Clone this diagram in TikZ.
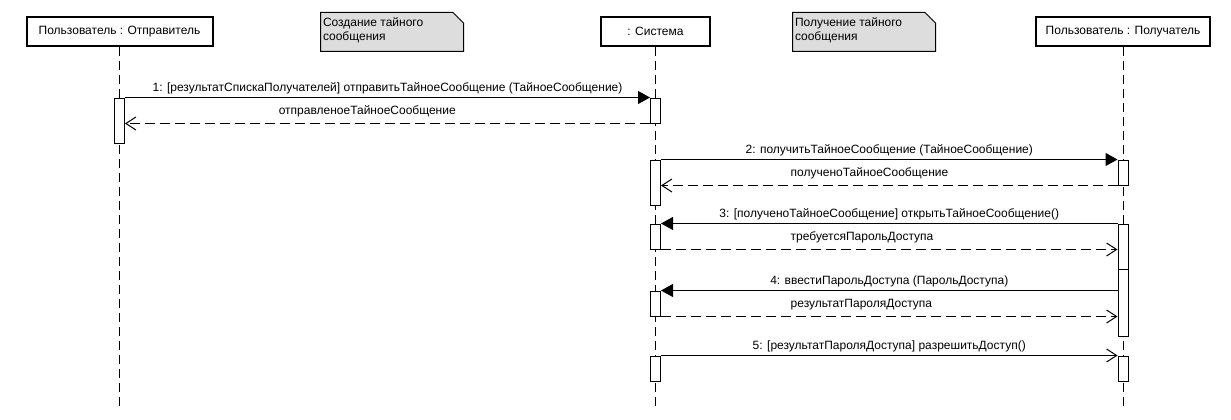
\documentclass[tikz,border=0pt]{standalone}
\usepackage{fontspec}
\setmainfont{Liberation Sans}
\usetikzlibrary{arrows.meta, calc}
\definecolor{notegray}{RGB}{221,221,221}

\begin{document}
\begin{tikzpicture}[x=1pt,y=-1pt,line width=1pt,
        font=\fontsize{12}{14}\selectfont,
        head/.style={draw, line width=2pt, fill=white, minimum height=29pt, inner sep=0pt},
        act/.style={draw, fill=white, minimum width=10pt, inner sep=0pt},
        life/.style={dash pattern=on 9pt off 5pt},
        call/.style={-{Triangle[length=12pt,width=13pt]}},
        ret/.style={dash pattern=on 10pt off 5pt, -{Straight Barb[length=10pt,width=13pt]}},
        async/.style={-{Straight Barb[length=10pt,width=13pt]}},
        lbl/.style={inner sep=0pt, text depth=3pt},
        notebox/.style={draw, fill=notegray},
        notetext/.style={inner sep=0pt, align=left}]
        \useasboundingbox (0,0) rectangle (1231,420);

        \draw[notebox] (320.5,12.5)--(453,12.5)--(463.5,23)--(463.5,51.5)--(320.5,51.5)--cycle;
        \node[notetext, anchor=north west] (noteSend) at (322.5,17) {Создание тайного\\сообщения};
        \draw[notebox] (792.5,12.5)--(925,12.5)--(935.5,23)--(935.5,51.5)--(792.5,51.5)--cycle;
        \node[notetext, anchor=north west] (noteRecv) at (794.5,17) {Получение тайного\\сообщения};

        \node[head, minimum width=186pt] (sndHead) at (119.5,31.5) {Пользователь : Отправитель};
        \node[head, minimum width=109pt] (sysHead) at (655.5,31.5) {: Система};
        \node[head, minimum width=174pt] (rcvHead) at (1123,31.5) {Пользователь : Получатель};

        \coordinate (sndEnd) at (119.5,409);
        \coordinate (sysEnd) at (655.5,409);
        \coordinate (rcvEnd) at (1123,409);
        \draw[life] (sndHead)--(sndEnd);
        \draw[life] (sysHead)--(sysEnd);
        \draw[life] (rcvHead)--(rcvEnd);

        \node[act, minimum height=45pt] (sndA1) at (119.5,120.5) {};
        \node[act, minimum height=25pt] (sysA1) at (655.5,110.5) {};
        \node[act, minimum height=45pt] (sysA2) at (655.5,182.5) {};
        \node[act, minimum height=25pt] (sysA3) at (655.5,236.5) {};
        \node[act, minimum height=25pt] (sysA4) at (655.5,303.5) {};
        \node[act, minimum height=25pt] (sysA5) at (655.5,368.5) {};
        \node[act, minimum height=25pt] (rcvA2) at (1123,172.5) {};
        \node[act, minimum height=45pt] (rcvA3) at (1123,246.5) {};
        \node[act, minimum height=67pt] (rcvA4) at (1123,302.5) {};
        \node[act, minimum height=25pt] (rcvA5) at (1123,368.5) {};

        \draw[call] (sndA1.north east)--(sysA1.north west)
            node[lbl, midway, above=2.5pt] {1: [результатСпискаПолучателей] отправитьТайноеСообщение (ТайноеСообщение)};
        \draw[ret] (sysA1.south west)--(sndA1.east |- sysA1.south)
            node[lbl, pos=0.708, anchor=south west, yshift=6pt] {отправленоеТайноеСообщение};

        \draw[call] (sysA2.north east)--(rcvA2.north west)
            node[lbl, midway, above=2.5pt] {2: получитьТайноеСообщение (ТайноеСообщение)};
        \draw[ret] (rcvA2.south west)--(sysA2.east |- rcvA2.south)
            node[lbl, pos=0.717, anchor=south west, yshift=6pt] {полученоТайноеСообщение};

        \draw[call] (rcvA3.north west)--(sysA3.north east)
            node[lbl, midway, above=2.5pt] {3: [полученоТайноеСообщение] открытьТайноеСообщение()};
        \draw[ret] (sysA3.south east)--(rcvA3.west |- sysA3.south)
            node[lbl, pos=0.283, anchor=south west, yshift=6pt] {требуетсяПарольДоступа};

        \draw[call] (rcvA4.west |- sysA4.north)--(sysA4.north east)
            node[lbl, midway, above=2.5pt] {4: ввестиПарольДоступа (ПарольДоступа)};
        \draw[ret] (sysA4.south east)--(rcvA4.west |- sysA4.south)
            node[lbl, pos=0.283, anchor=south west, yshift=6pt] {результатПароляДоступа};

        \draw[async] (sysA5.north east)--(rcvA5.north west)
            node[lbl, midway, above=2.5pt] {5: [результатПароляДоступа] разрешитьДоступ()};
    \end{tikzpicture}
\end{document}
